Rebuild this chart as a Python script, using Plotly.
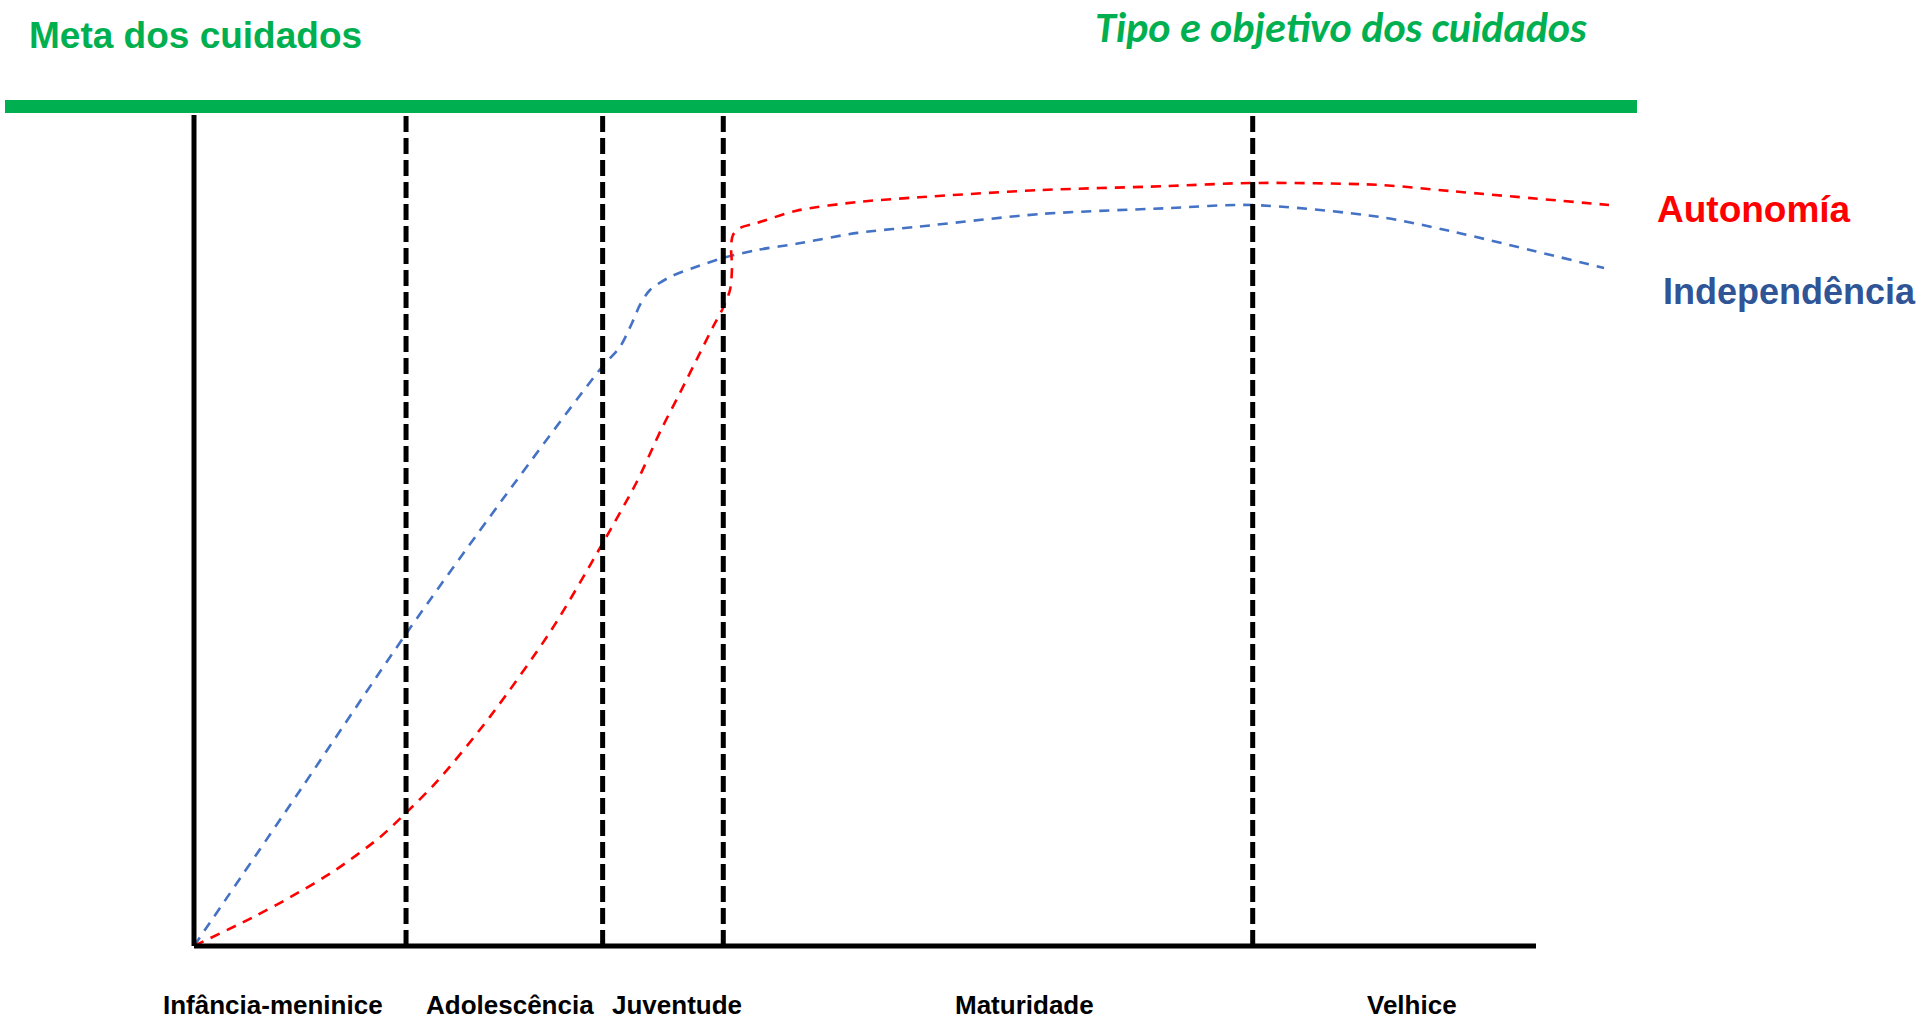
import plotly.graph_objects as go

# ---------------- data ----------------
# x: 0 = origin (vertical axis), 100 = end of horizontal axis
# y: 0 = horizontal axis, 100 = top of vertical axis
indep_x = [0.0, 7.91, 15.76, 22.97, 30.37, 31.74, 32.64, 33.23, 33.98, 35.47, 37.18, 39.42,
           41.95, 44.88, 49.45, 54.01, 63.11, 72.27, 78.84, 88.38, 93.59, 105.07]
indep_y = [0.0, 18.75, 37.47, 53.69, 69.61, 72.08, 74.97, 77.14, 78.94, 80.51, 81.59, 82.79,
           83.75, 84.50, 85.82, 86.57, 88.09, 88.77, 89.17, 87.73, 86.04, 81.59]

auton_x = [0.0, 4.40, 7.15, 10.51, 13.86, 15.72, 18.11, 22.06, 26.62, 30.37, 33.01, 34.84,
           36.21, 37.70, 38.67, 39.42, 39.94, 40.09, 40.02, 40.16, 40.69, 41.95, 44.88,
           49.45, 54.01, 63.11, 72.27, 78.84, 88.38, 93.59, 105.44]
auton_y = [0.0, 3.47, 5.85, 9.10, 13.10, 15.90, 19.80, 27.60, 38.00, 48.23, 55.90, 62.24,
           66.55, 71.36, 74.49, 76.77, 78.94, 81.71, 84.12, 85.56, 86.40, 87.00, 88.48,
           89.53, 90.10, 90.97, 91.43, 91.82, 91.58, 90.85, 89.17]

stage_bounds = [15.80, 30.45, 39.44, 78.89]
stage_labels = ["Infância-meninice", "Adolescência", "Juventude", "Maturidade", "Velhice"]
stage_label_x = [5.89, 23.55, 35.99, 61.85, 90.76]

series_names = ["Autonomía", "Independência"]
title_left = "Meta dos cuidados"
title_right = "Tipo e objetivo dos cuidados"

# ---------------- layout constants ----------------
W, H = 1921, 1023
X0_PX, XS = 194.0, 13.42     # pixel of x=0, pixels per x unit
Y0_PX, YS = 946.0, 8.31      # pixel of y=0, pixels per y unit

def dx(px):
    return (px - X0_PX) / XS

def dy(py):
    return (Y0_PX - py) / YS

RED = "#FF0000"
BLUE = "#4472C4"
DARKBLUE = "#2F5597"
GREEN = "#00B050"
ARIAL = "Liberation Sans, Arial, sans-serif"

fig = go.Figure()

fig.add_trace(go.Scatter(
    x=indep_x, y=indep_y, mode="lines", name=series_names[1],
    line=dict(color=BLUE, width=2.6, dash="10px,8px", shape="spline", smoothing=0.8),
    hoverinfo="skip", showlegend=False))
fig.add_trace(go.Scatter(
    x=auton_x, y=auton_y, mode="lines", name=series_names[0],
    line=dict(color=RED, width=2.6, dash="10px,8px", shape="spline", smoothing=0.8),
    hoverinfo="skip", showlegend=False))

shapes = []
# green bar
shapes.append(dict(type="rect", xref="x", yref="y",
                   x0=dx(5), x1=dx(1637), y0=dy(113), y1=dy(100),
                   fillcolor=GREEN, line=dict(width=0), layer="above"))
# stage dividers
for b in stage_bounds:
    shapes.append(dict(type="line", xref="x", yref="y", x0=b, x1=b, y0=0, y1=100,
                       line=dict(color="black", width=5, dash="16px,6px"), layer="above"))
# axes
shapes.append(dict(type="line", xref="x", yref="y", x0=0, x1=0, y0=0, y1=100,
                   line=dict(color="black", width=5), layer="above"))
shapes.append(dict(type="line", xref="x", yref="y", x0=0, x1=100, y0=0, y1=0,
                   line=dict(color="black", width=5), layer="above"))

annotations = []
annotations.append(dict(x=dx(27), y=dy(35), xref="x", yref="y", text="<b>%s</b>" % title_left,
                        showarrow=False, xanchor="left", yanchor="middle",
                        font=dict(family=ARIAL, size=37, color=GREEN)))
annotations.append(dict(x=dx(1341), y=dy(0.5), xref="x", yref="y",
                        text="<b><i>%s</i></b>" % title_right,
                        showarrow=False, xanchor="center", yanchor="top", borderpad=0,
                        font=dict(family="Carlito, Lato, sans-serif", size=42, color=GREEN)))
annotations.append(dict(x=dx(1655), y=dy(209), xref="x", yref="y", text="<b>%s</b>" % series_names[0],
                        showarrow=False, xanchor="left", yanchor="middle",
                        font=dict(family=ARIAL, size=37, color=RED)))
annotations.append(dict(x=dx(1661), y=dy(291), xref="x", yref="y", text="<b>%s</b>" % series_names[1],
                        showarrow=False, xanchor="left", yanchor="middle",
                        font=dict(family=ARIAL, size=36, color=DARKBLUE)))
for lx, lab in zip(stage_label_x, stage_labels):
    annotations.append(dict(x=lx, y=dy(1005), xref="x", yref="y", text="<b>%s</b>" % lab,
                            showarrow=False, xanchor="center", yanchor="middle",
                            font=dict(family=ARIAL, size=26, color="black")))

fig.update_layout(
    width=W, height=H,
    margin=dict(l=0, r=0, t=0, b=0, pad=0),
    paper_bgcolor="white", plot_bgcolor="white",
    xaxis=dict(range=[dx(0), dx(W)], visible=False, showgrid=False, zeroline=False, fixedrange=True),
    yaxis=dict(range=[dy(H), dy(0)], visible=False, showgrid=False, zeroline=False, fixedrange=True),
    shapes=shapes, annotations=annotations, showlegend=False,
)

fig.write_html("out.html", config={"displayModeBar": False},
               post_script="document.body.style.margin='0';document.body.style.overflow='hidden';")
